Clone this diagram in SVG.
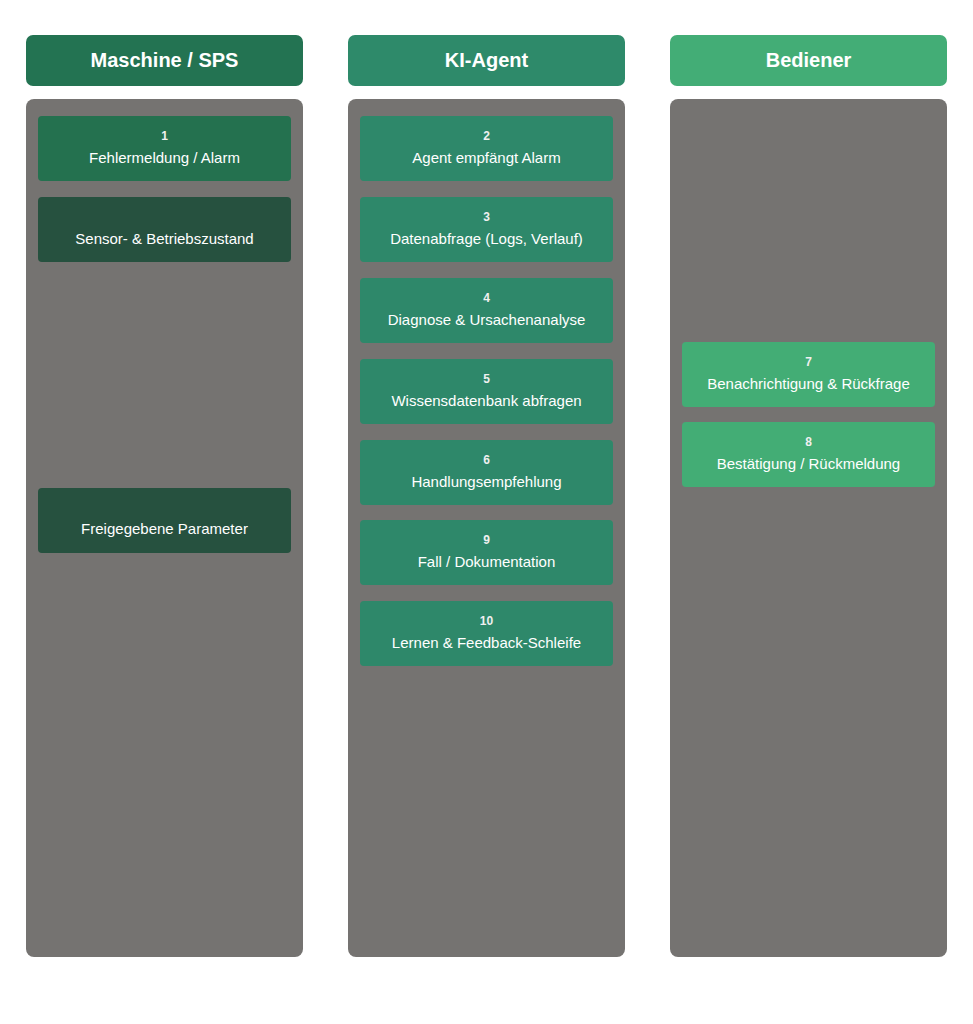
<svg xmlns="http://www.w3.org/2000/svg" width="973" height="1024" viewBox="0 0 973 1024">
<style>
.lane{fill:#757371}
.hd{font:bold 20px "Liberation Sans",Arial,sans-serif;fill:#fff;text-anchor:middle}
.n{font:bold 12px "Liberation Sans",Arial,sans-serif;fill:#f0f0f0;text-anchor:middle}
.t{font:15px "Liberation Sans",Arial,sans-serif;fill:#fff;text-anchor:middle}
.c1{fill:#24714f}.c1d{fill:#26513f}.c2{fill:#2e886a}.c3{fill:#43ad75}
</style>
<rect width="973" height="1024" fill="#fff"/>
<g id="lane-sps"><rect x="26" y="35" width="277" height="51" rx="7" fill="#237352"/><text class="hd" x="164.5" y="67">Maschine / SPS</text><rect class="lane" x="26" y="99" width="277" height="858" rx="8"/></g>
<g id="lane-ki"><rect x="348" y="35" width="277" height="51" rx="7" fill="#2e8a6a"/><text class="hd" x="486.5" y="67">KI-Agent</text><rect class="lane" x="348" y="99" width="277" height="858" rx="8"/></g>
<g id="lane-bed"><rect x="670" y="35" width="277" height="51" rx="7" fill="#43ad76"/><text class="hd" x="808.5" y="67">Bediener</text><rect class="lane" x="670" y="99" width="277" height="858" rx="8"/></g>
<g id="n1"><rect class="c1" x="38" y="116" width="253" height="65" rx="4"/><text class="n" x="164.5" y="140">1</text><text class="t" x="164.5" y="163">Fehlermeldung / Alarm</text></g>
<g id="nsensor"><rect class="c1d" x="38" y="197" width="253" height="65" rx="4"/><text class="t" x="164.5" y="244">Sensor- &amp; Betriebszustand</text></g>
<g id="nparam"><rect class="c1d" x="38" y="488" width="253" height="65" rx="4"/><text class="t" x="164.5" y="534">Freigegebene Parameter</text></g>
<g id="n2"><rect class="c2" x="360" y="116" width="253" height="65" rx="4"/><text class="n" x="486.5" y="140">2</text><text class="t" x="486.5" y="163">Agent empfängt Alarm</text></g>
<g id="n3"><rect class="c2" x="360" y="197" width="253" height="65" rx="4"/><text class="n" x="486.5" y="221">3</text><text class="t" x="486.5" y="244">Datenabfrage (Logs, Verlauf)</text></g>
<g id="n4"><rect class="c2" x="360" y="278" width="253" height="65" rx="4"/><text class="n" x="486.5" y="302">4</text><text class="t" x="486.5" y="325">Diagnose &amp; Ursachenanalyse</text></g>
<g id="n5"><rect class="c2" x="360" y="359" width="253" height="65" rx="4"/><text class="n" x="486.5" y="383">5</text><text class="t" x="486.5" y="406">Wissensdatenbank abfragen</text></g>
<g id="n6"><rect class="c2" x="360" y="440" width="253" height="65" rx="4"/><text class="n" x="486.5" y="464">6</text><text class="t" x="486.5" y="487">Handlungsempfehlung</text></g>
<g id="n9"><rect class="c2" x="360" y="520" width="253" height="65" rx="4"/><text class="n" x="486.5" y="544">9</text><text class="t" x="486.5" y="567">Fall / Dokumentation</text></g>
<g id="n10"><rect class="c2" x="360" y="601" width="253" height="65" rx="4"/><text class="n" x="486.5" y="625">10</text><text class="t" x="486.5" y="648">Lernen &amp; Feedback-Schleife</text></g>
<g id="n7"><rect class="c3" x="682" y="342" width="253" height="65" rx="4"/><text class="n" x="808.5" y="366">7</text><text class="t" x="808.5" y="389">Benachrichtigung &amp; Rückfrage</text></g>
<g id="n8"><rect class="c3" x="682" y="422" width="253" height="65" rx="4"/><text class="n" x="808.5" y="446">8</text><text class="t" x="808.5" y="469">Bestätigung / Rückmeldung</text></g>
<g id="connectors"></g>
</svg>
